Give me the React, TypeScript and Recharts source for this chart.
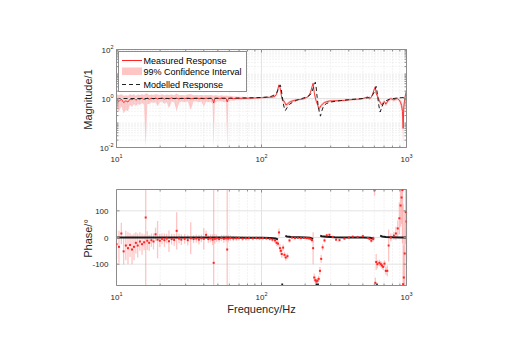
import React from 'react';
import {
  ComposedChart,
  Area,
  Line,
  Scatter,
  ErrorBar,
  XAxis,
  YAxis,
  ReferenceLine,
  Legend,
} from 'recharts';

// Measured frequency points (Hz)
const freqHz = [
  10, 10.4, 10.8, 11.2, 11.6, 12, 12.4, 12.8, 13.2, 13.6,
  14, 14.5, 15, 15.5, 15.9, 16.3, 16.8, 17.4, 18, 18.6,
  19.2, 19.9, 20.6, 21.4, 22.2, 23, 24, 25, 26, 27,
  28, 29.5, 31, 32.5, 34, 35.5, 37, 38.5, 40, 41.5,
  43, 44.5, 46, 46.8, 47.6, 49, 51, 53, 55, 57,
  58, 59, 61, 64, 67, 70, 74, 78, 82, 87,
  92, 97, 102, 108, 114, 119, 124, 127, 130, 132,
  134, 136, 138, 141, 144, 147, 151, 156, 162, 170,
  178, 187, 196, 205, 212, 218, 223, 227, 231, 235,
  239, 243, 248, 253, 258, 264, 272, 282, 294, 310,
  327, 345, 373, 400, 426, 460, 500, 541, 556, 572,
  590, 602, 610, 618, 630, 650, 665, 677, 690, 705,
  720, 737, 753, 780, 818, 845, 870, 893, 910, 925,
  938, 948, 958, 972, 986, 1000,
];

// Measured magnitude
const magMeasured = [
  0.9, 0.75, 0.95, 0.68, 0.8, 0.72, 0.95, 0.88, 1.02, 0.85,
  0.98, 0.92, 1.05, 0.9, 0.95, 1.05, 0.93, 1.02, 0.96, 1.04,
  0.97, 1.0, 1.06, 0.95, 1.02, 0.97, 1.05, 0.98, 1.03, 0.96,
  1.02, 0.99, 1.04, 0.97, 1.01, 1.04, 0.98, 1.02, 0.97, 1.03,
  0.99, 1.02, 0.95, 0.65, 0.97, 1.02, 0.98, 1.03, 0.99, 1.01,
  0.72, 0.98, 1.02, 0.99, 1.01, 1.0, 1.02, 1.01, 1.03, 1.03,
  1.05, 1.06, 1.08, 1.1, 1.12, 1.15, 1.25, 1.5, 2.6, 3.6,
  2.9, 1.8, 1.0, 0.8, 0.75, 0.55, 0.6, 0.7, 0.78, 0.85,
  0.9, 0.93, 0.98, 1.1, 1.3, 1.8, 3.0, 4.2, 1.8, 1.05,
  0.75, 0.6, 0.38, 0.43, 0.52, 0.6, 0.69, 0.74, 0.79, 0.8,
  0.81, 0.82, 0.84, 0.88, 0.91, 0.94, 0.99, 1.15, 0.97, 1.12,
  1.8, 2.6, 3.0, 1.55, 1.3, 0.81, 0.62, 0.55, 0.68, 0.75,
  0.59, 0.72, 0.88, 0.99, 0.88, 0.96, 0.99, 0.85, 0.69, 0.52,
  0.3, 0.06, 0.45, 0.95, 1.5, 2.1,
];

// 99% confidence interval of the magnitude, lower bound
const magLow = [
  0.4, 0.3, 0.5, 0.25, 0.35, 0.3, 0.55, 0.45, 0.6, 0.5,
  0.6, 0.55, 0.65, 0.55, 0.01, 0.6, 0.6, 0.7, 0.65, 0.7,
  0.5, 0.7, 0.75, 0.6, 0.7, 0.4, 0.75, 0.7, 0.3, 0.65,
  0.75, 0.7, 0.75, 0.35, 0.75, 0.78, 0.7, 0.75, 0.45, 0.75,
  0.7, 0.75, 0.6, 0.01, 0.65, 0.75, 0.75, 0.78, 0.7, 0.75,
  0.01, 0.72, 0.8, 0.82, 0.85, 0.85, 0.88, 0.9, 0.92, 0.93,
  0.95, 0.96, 0.98, 1.0, 1.02, 1.03, 1.1, 1.3, 2.2, 3.1,
  2.4, 1.5, 0.85, 0.68, 0.62, 0.45, 0.5, 0.6, 0.68, 0.76,
  0.81, 0.84, 0.88, 0.98, 1.15, 1.55, 2.6, 3.6, 1.5, 0.88,
  0.63, 0.5, 0.3, 0.35, 0.44, 0.52, 0.61, 0.66, 0.71, 0.72,
  0.73, 0.74, 0.76, 0.8, 0.83, 0.85, 0.9, 1.03, 0.87, 1.0,
  1.55, 2.2, 2.6, 1.3, 1.1, 0.68, 0.5, 0.44, 0.56, 0.63,
  0.48, 0.6, 0.76, 0.86, 0.75, 0.82, 0.84, 0.7, 0.5, 0.3,
  0.08, 0.01, 0.15, 0.6, 1.1, 1.6,
];

// 99% confidence interval of the magnitude, upper bound
const magHigh = [
  1.5, 1.4, 1.5, 1.3, 1.35, 1.3, 1.5, 1.4, 1.5, 1.3,
  1.45, 1.4, 1.5, 1.4, 1.6, 1.55, 1.4, 1.45, 1.4, 1.5,
  1.45, 1.4, 1.5, 1.35, 1.45, 1.4, 1.45, 1.35, 1.6, 1.35,
  1.4, 1.35, 1.45, 1.5, 1.35, 1.4, 1.35, 1.38, 1.35, 1.4,
  1.35, 1.38, 1.35, 1.3, 1.35, 1.35, 1.3, 1.35, 1.3, 1.32,
  1.3, 1.3, 1.28, 1.22, 1.2, 1.18, 1.18, 1.15, 1.15, 1.14,
  1.15, 1.16, 1.18, 1.2, 1.22, 1.27, 1.4, 1.7, 3.0, 4.1,
  3.3, 2.1, 1.2, 0.95, 0.88, 0.66, 0.7, 0.8, 0.88, 0.94,
  0.99, 1.02, 1.08, 1.22, 1.45, 2.05, 3.4, 4.8, 2.1, 1.2,
  0.87, 0.7, 0.46, 0.51, 0.6, 0.68, 0.77, 0.82, 0.87, 0.88,
  0.89, 0.9, 0.92, 0.96, 1.0, 1.03, 1.08, 1.27, 1.07, 1.25,
  2.05, 3.0, 3.4, 1.8, 1.5, 0.94, 0.74, 0.66, 0.8, 0.87,
  0.7, 0.84, 1.0, 1.12, 1.0, 1.1, 1.14, 1.0, 0.88, 0.75,
  0.6, 0.35, 0.8, 1.3, 1.9, 2.6,
];

// Measured phase (degrees)
const phaseMeasured = [
  -25, -35, 15, -52, -30, -40, -28, -45, -35, -20,
  -30, -15, -25, -18, 75, -12, -20, -10, -15, 12,
  -8, -12, -5, -10, -4, -14, -6, -9, 25, -4,
  -8, -5, -10, -3, -6, -4, -8, -3, -5, 10,
  -6, -3, -8, -95, -5, -3, -6, -2, -5, -3,
  -45, -4, -2, -4, -3, -2, -4, -3, -2, -3,
  -2, -3, -2, -3, -5, -8, -11, -20, -23, 19,
  -40, -50, -62, -38, -65, -75, -70, -11, 0, -2,
  -1, -2, -1, -2, -3, -5, -10, -40, -150, -160,
  -165, -162, -155, -125, -80, -37, -11, 8, 10, 2,
  -8, -10, -4, 0, 3, 2, 5, -2, -5, -12,
  -5, 177, -170, -92, -100, -95, -100, -105, -110, -98,
  -125, -125, -30, 0, 7, 15, 34, 72, 120, 150,
  178, -175, -150, -60, 95, 60,
];

// Half width of the 99% confidence interval of the phase (degrees)
const phaseSpread = [
  55, 60, 40, 50, 55, 60, 45, 55, 50, 40,
  45, 35, 40, 30, 400, 35, 30, 25, 30, 25,
  70, 25, 20, 25, 18, 40, 20, 22, 70, 18,
  20, 18, 20, 60, 15, 15, 18, 14, 40, 15,
  14, 15, 20, 400, 18, 14, 12, 12, 15, 12,
  400, 14, 10, 10, 9, 8, 9, 8, 8, 7,
  7, 7, 6, 6, 7, 8, 10, 12, 12, 15,
  15, 14, 14, 12, 12, 12, 10, 8, 6, 5,
  5, 5, 5, 6, 6, 8, 10, 60, 15, 12,
  10, 10, 12, 15, 15, 12, 8, 6, 5, 5,
  5, 5, 5, 4, 4, 4, 5, 5, 6, 8,
  10, 20, 20, 30, 15, 12, 12, 12, 12, 12,
  15, 20, 60, 15, 15, 25, 30, 60, 80, 100,
  200, 300, 120, 150, 120, 150,
];

// Modelled response
const modelFreqHz = [
  10, 20, 40, 60, 80, 100, 110, 118, 124, 128,
  131, 133, 135, 137, 139, 141, 143, 146, 150, 156,
  165, 175, 190, 205, 215, 222, 228, 232, 235, 238,
  241, 245, 250, 255, 260, 268, 280, 300, 350, 420,
  500, 550, 580, 598, 610, 618, 626, 634, 645, 658,
  672, 690, 720, 760, 805, 860, 918, 1000,
];
const modelMag = [
  1.0, 1.0, 1.01, 1.03, 1.06, 1.1, 1.15, 1.25, 1.45, 1.8,
  2.5, 3.3, 3.5, 2.3, 1.2, 0.7, 0.45, 0.32, 0.42, 0.58,
  0.72, 0.85, 1.0, 1.15, 1.35, 1.75, 2.8, 4.0, 4.6, 3.0,
  1.4, 0.6, 0.3, 0.19, 0.3, 0.5, 0.62, 0.72, 0.82, 0.92,
  1.0, 1.08, 1.3, 1.8, 2.5, 3.1, 2.0, 1.1, 0.5, 0.28,
  0.4, 0.6, 0.8, 0.93, 0.99, 1.04, 1.08, 1.12,
];
const modelPhaseFreqHz = [
  10, 20, 40, 60, 80, 100, 115, 125, 130, 133,
  137, 141, 144, 146, 150, 160, 180, 200, 215, 222,
  226, 230, 236, 249, 252, 254, 260, 280, 320, 400,
  500, 560, 598, 608, 618, 634, 645, 658, 680, 720,
  800, 900, 1000,
];
const modelPhaseDeg = [
  0, 0, 0, 0, -1, -1, -2, -4, -7, null,
  -176, -176, null, 6, 4, 2, 1, 0, -1, -3,
  -6, null, -176, -176, null, 7, 5, 3, 1, 0,
  0, -1, -5, null, -176, -176, null, 7, 4, 2,
  1, 0, 0,
];

// Axis ticks
const freqTicks = [10, 20, 30, 40, 50, 60, 70, 80, 90, 100, 200, 300, 400, 500, 600, 700, 800, 900, 1000];
const freqMajor = [10, 100, 1000];
const freqMinor = [20, 30, 40, 50, 60, 70, 80, 90, 200, 300, 400, 500, 600, 700, 800, 900];
const magTicks = [
  0.01, 0.02, 0.03, 0.04, 0.05, 0.06, 0.07, 0.08, 0.09,
  0.1, 0.2, 0.3, 0.4, 0.5, 0.6, 0.7, 0.8, 0.9,
  1, 2, 3, 4, 5, 6, 7, 8, 9,
  10, 20, 30, 40, 50, 60, 70, 80, 90, 100,
];
const magMajor = [0.01, 1, 100];
const phaseTicks = [-100, 0, 100];

const magRows = freqHz.map((f, i) => ({ f, m: magMeasured[i], band: [magLow[i], magHigh[i]] }));
const modelMagRows = modelFreqHz.map((f, i) => ({ f, mm: modelMag[i] }));
const phaseRows = freqHz.map((f, i) => {
  const p = phaseMeasured[i];
  const s = phaseSpread[i];
  return { f, p, err: [p - Math.max(p - s, -180), Math.min(p + s, 180) - p] };
});
const modelPhaseRows = modelPhaseFreqHz.map((f, i) => ({ f, mp: modelPhaseDeg[i] }));

const FONT = "'Liberation Sans', Arial, Helvetica, sans-serif";
const AXIS_COLOR = '#8c8c8c';
const TEXT_COLOR = '#262626';
const GRID_MAJOR = '#e3e3e3';
const GRID_MINOR = '#e6e6e6';
const RED = '#ff2424';
const PINK = '#ffc4c4';
const ERR_PINK = '#ff9c9c';

const CHART_W = 513;
const CHART_H = 175;
const PLOT_LEFT = 116.5;
const PLOT_RIGHT = 406.5;
const PLOT_W = PLOT_RIGHT - PLOT_LEFT;
const MAG_TOP = 49.5;
const MAG_BOTTOM = 147.5;
const PH_TOP = 14.5;
const PH_BOTTOM = 110.5;

function PowerText({ x, y, exp, anchor }: { x: number; y: number; exp: string; anchor: 'start' | 'middle' | 'end' }) {
  return (
    <text x={x} y={y} textAnchor={anchor} fontSize={8} fill={TEXT_COLOR}>
      10
      <tspan dy={-3.5} fontSize={5.5}>
        {exp}
      </tspan>
    </text>
  );
}

function FreqTick(props: any) {
  const { x, y, payload, plotH } = props;
  const v = payload.value as number;
  const major = freqMajor.includes(v);
  const len = major ? 3 : 2;
  return (
    <g>
      <line x1={x} x2={x} y1={y} y2={y - len} stroke={AXIS_COLOR} />
      <line x1={x} x2={x} y1={y - plotH} y2={y - plotH + len} stroke={AXIS_COLOR} />
      {major && <PowerText x={x} y={y + 14} exp={String(Math.round(Math.log10(v)))} anchor="middle" />}
    </g>
  );
}

function MagTick(props: any) {
  const { x, y, payload } = props;
  const v = payload.value as number;
  const major = magMajor.includes(v);
  const len = major ? 3 : 2;
  return (
    <g>
      <line x1={x} x2={x + len} y1={y} y2={y} stroke={AXIS_COLOR} />
      <line x1={x + PLOT_W} x2={x + PLOT_W - len} y1={y} y2={y} stroke={AXIS_COLOR} />
      {major && <PowerText x={x - 3} y={y + 3} exp={String(Math.round(Math.log10(v)))} anchor="end" />}
    </g>
  );
}

function PhaseTick(props: any) {
  const { x, y, payload } = props;
  return (
    <g>
      <line x1={x} x2={x + 3} y1={y} y2={y} stroke={AXIS_COLOR} />
      <line x1={x + PLOT_W} x2={x + PLOT_W - 3} y1={y} y2={y} stroke={AXIS_COLOR} />
      <text x={x - 8} y={y + 3} textAnchor="end" fontSize={8} fill={TEXT_COLOR}>
        {payload.value}
      </text>
    </g>
  );
}

const magTitle = () => (
  <text
    x={92}
    y={(MAG_TOP + MAG_BOTTOM) / 2 + 1}
    transform={`rotate(-90, 92, ${(MAG_TOP + MAG_BOTTOM) / 2 + 1})`}
    textAnchor="middle"
    fontSize={11}
    fill={TEXT_COLOR}
  >
    Magnitude/1
  </text>
);

const phaseTitle = () => (
  <text
    x={92}
    y={(PH_TOP + PH_BOTTOM) / 2 + 1}
    transform={`rotate(-90, 92, ${(PH_TOP + PH_BOTTOM) / 2 + 1})`}
    textAnchor="middle"
    fontSize={11}
    fill={TEXT_COLOR}
  >
    Phase/°
  </text>
);

const freqTitle = () => (
  <text x={(PLOT_LEFT + PLOT_RIGHT) / 2} y={PH_BOTTOM + 27.5} textAnchor="middle" fontSize={11} fill={TEXT_COLOR}>
    Frequency/Hz
  </text>
);

function LegendBox() {
  return (
    <svg width={130} height={42} style={{ display: 'block', fontFamily: FONT }}>
      <rect x={0.5} y={0.5} width={128} height={40} fill="#ffffff" stroke={AXIS_COLOR} />
      <line x1={4} x2={24} y1={9.5} y2={9.5} stroke={RED} />
      <text x={25.5} y={12.7} fontSize={9} fill="#000">Measured Response</text>
      <rect x={4} y={16.5} width={20} height={7.5} fill={PINK} />
      <text x={25.5} y={23.7} fontSize={9} fill="#000">99% Confidence Interval</text>
      <line x1={4} x2={24} y1={33.5} y2={33.5} stroke="#222" strokeDasharray="4 3" />
      <text x={25.5} y={36.7} fontSize={9} fill="#000">Modelled Response</text>
    </svg>
  );
}

const noShape = () => <g />;
const redDot = (p: any) => <rect x={p.cx - 1} y={p.cy - 1} width={2} height={2} fill={RED} />;

export default function App() {
  return (
    <div
      style={{
        position: 'absolute',
        left: 0,
        top: 0,
        width: CHART_W,
        height: 350,
        background: '#ffffff',
        fontFamily: FONT,
      }}
    >
      <div style={{ position: 'absolute', left: 0, top: 0 }}>
        <ComposedChart
          width={CHART_W}
          height={CHART_H}
          data={magRows}
          margin={{ top: MAG_TOP, right: CHART_W - PLOT_RIGHT, bottom: 0, left: 0 }}
        >
          <XAxis
            dataKey="f"
            type="number"
            scale="log"
            domain={[10, 1000]}
            allowDataOverflow
            ticks={freqTicks}
            interval={0}
            tickSize={0}
            tickMargin={0}
            tickLine={false}
            axisLine={{ stroke: AXIS_COLOR }}
            height={CHART_H - MAG_BOTTOM}
            tick={(p: any) => <FreqTick {...p} plotH={MAG_BOTTOM - MAG_TOP} />}
          />
          <YAxis
            type="number"
            scale="log"
            domain={[0.01, 100]}
            allowDataOverflow
            ticks={magTicks}
            interval={0}
            tickSize={0}
            tickMargin={0}
            tickLine={false}
            axisLine={{ stroke: AXIS_COLOR }}
            width={PLOT_LEFT}
            tick={(p: any) => <MagTick {...p} />}
            label={{ content: magTitle }}
          />
          {freqMinor.map((v) => (
            <ReferenceLine key={`mx${v}`} x={v} stroke={GRID_MINOR} strokeDasharray="1 2" />
          ))}
          {magTicks
            .filter((v) => !magMajor.includes(v))
            .map((v) => (
              <ReferenceLine key={`my${v}`} y={v} stroke={GRID_MINOR} strokeDasharray="1 2" />
            ))}
          <ReferenceLine x={100} stroke={GRID_MAJOR} />
          <ReferenceLine y={1} stroke={GRID_MAJOR} />
          <Area
            dataKey="band"
            type="linear"
            stroke="none"
            fill={PINK}
            fillOpacity={1}
            isAnimationActive={false}
          />
          <Line dataKey="m" type="linear" stroke={RED} strokeWidth={0.9} dot={false} isAnimationActive={false} />
          <Line
            data={modelMagRows}
            dataKey="mm"
            type="linear"
            stroke="#1a1a1a"
            strokeWidth={1}
            strokeDasharray="4 3"
            dot={false}
            isAnimationActive={false}
          />
          <ReferenceLine y={100} stroke={AXIS_COLOR} />
          <ReferenceLine x={1000} stroke={AXIS_COLOR} />
          <Legend
            layout="vertical"
            align="center"
            verticalAlign="middle"
            content={() => <LegendBox />}
            wrapperStyle={{ left: 117.5, top: 50.5, width: 130, height: 42 }}
          />
        </ComposedChart>
      </div>
      <div style={{ position: 'absolute', left: 0, top: CHART_H }}>
        <ComposedChart
          width={CHART_W}
          height={CHART_H}
          data={phaseRows}
          margin={{ top: PH_TOP, right: CHART_W - PLOT_RIGHT, bottom: 0, left: 0 }}
        >
          <XAxis
            dataKey="f"
            type="number"
            scale="log"
            domain={[10, 1000]}
            allowDataOverflow
            ticks={freqTicks}
            interval={0}
            tickSize={0}
            tickMargin={0}
            tickLine={false}
            axisLine={{ stroke: AXIS_COLOR }}
            height={CHART_H - PH_BOTTOM}
            tick={(p: any) => <FreqTick {...p} plotH={PH_BOTTOM - PH_TOP} />}
            label={{ content: freqTitle }}
          />
          <YAxis
            type="number"
            domain={[-180, 180]}
            allowDataOverflow
            ticks={phaseTicks}
            interval={0}
            tickSize={0}
            tickMargin={0}
            tickLine={false}
            axisLine={{ stroke: AXIS_COLOR }}
            width={PLOT_LEFT}
            tick={(p: any) => <PhaseTick {...p} />}
            label={{ content: phaseTitle }}
          />
          {freqMinor.map((v) => (
            <ReferenceLine key={`px${v}`} x={v} stroke={GRID_MINOR} strokeDasharray="1 2" />
          ))}
          <ReferenceLine x={100} stroke={GRID_MAJOR} />
          {phaseTicks.map((v) => (
            <ReferenceLine key={`py${v}`} y={v} stroke={GRID_MAJOR} />
          ))}
          <Scatter dataKey="p" shape={noShape} isAnimationActive={false}>
            <ErrorBar
              dataKey="err"
              direction="y"
              width={0}
              stroke={ERR_PINK}
              strokeOpacity={0.6}
              strokeWidth={1.3}
              isAnimationActive={false}
            />
          </Scatter>
          <Line
            data={modelPhaseRows}
            dataKey="mp"
            type="linear"
            stroke="#1a1a1a"
            strokeWidth={2}
            dot={false}
            connectNulls={false}
            isAnimationActive={false}
          />
          <Scatter dataKey="p" shape={redDot} isAnimationActive={false} />
          <ReferenceLine y={180} stroke={AXIS_COLOR} />
          <ReferenceLine x={1000} stroke={AXIS_COLOR} />
        </ComposedChart>
      </div>
    </div>
  );
}
